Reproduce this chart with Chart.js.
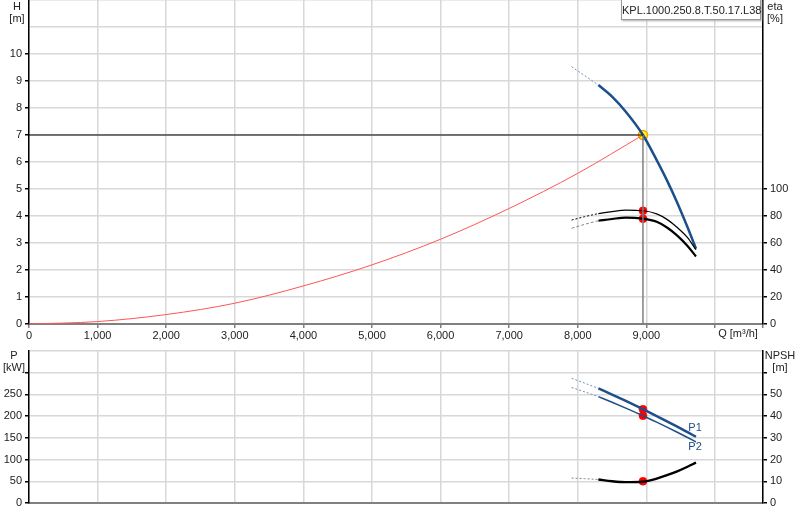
<!DOCTYPE html>
<html>
<head>
<meta charset="utf-8">
<script src="https://cdn.jsdelivr.net/npm/chart.js@4.4.0/dist/chart.umd.min.js"></script>
<style>
  body { margin: 0; background: #fff; font-family: "Liberation Sans", Arial, sans-serif; }
  #wrap { position: relative; width: 800px; height: 520px; overflow: hidden; }
  canvas { position: absolute; left: 0; }
  #topChart { top: 0; }
  #botChart { top: 345px; }
  .lbl { position: absolute; font-size: 11px; color: #222; text-align: center; line-height: 12px; }
  #model {
    position: absolute; left: 621px; top: -1px; width: 138px; height: 19px;
    border: 1px solid #999; background: #fff; box-shadow: 1px 1px 2px #aaa;
    font-size: 11px; line-height: 20px; text-align: center; color: #222;
  }
</style>
</head>
<body>
<div id="wrap">
  <canvas id="topChart" width="800" height="345"></canvas>
  <canvas id="botChart" width="800" height="175"></canvas>
  <div class="lbl" style="left:8px;top:0px;width:18px;">H<br>[m]</div>
  <div class="lbl" style="left:766px;top:0px;width:18px;">eta<br>[%]</div>
  <div class="lbl" style="left:2px;top:349px;width:24px;">P<br>[kW]</div>
  <div class="lbl" style="left:764px;top:349px;width:32px;">NPSH<br>[m]</div>
  <div id="model">KPL.1000.250.8.T.50.17.L38</div>
</div>
<script>
// flow values [m³/h] where the curves were read
const qCurve = [8300, 8500, 8700, 8950, 9150, 9300, 9450, 9600, 9723];
const qExt = [7910, 8100, 8300];
const qMax = 10700;

// head [m]
const head = [8.85, 8.42, 7.86, 7.0, 6.07, 5.32, 4.49, 3.58, 2.79];
const headExt = [9.53, 9.2, 8.85];

// efficiency [%]
const etaUpper = [81.8, 83.2, 84.3, 83.9, 81.6, 77.5, 71.5, 64, 55];
const etaUpperExt = [77.0, 79.5, 81.8];
const etaLower = [76.5, 77.8, 78.8, 78.0, 75.7, 71.5, 65.5, 57.8, 50];
const etaLowerExt = [70.9, 73.8, 76.5];

// power [kW]
const p1 = [264, 249.8, 235.1, 216, 200.2, 188.1, 175.7, 163, 152.5];
const p1Ext = [287, 276, 264];
const p2 = [245, 232.1, 218.6, 201, 186.2, 174.8, 163, 150.9, 140.8];
const p2Ext = [266, 256, 245];

// NPSH [m]
const npsh = [10.8, 10.0, 9.6, 9.8, 11.2, 12.8, 14.6, 16.7, 18.6];
const npshExt = [11.5, 11.2, 10.8];

// system curve
const qSys = [0, 1000, 2000, 3000, 4000, 5000, 6000, 7000, 8000, 8950];
const hSys = [0, 0.09, 0.35, 0.77, 1.41, 2.19, 3.14, 4.28, 5.58, 7.0];

// duty point
const dutyQ = 8950;
const dutyH = 7.0;
const dutyEta = [83.9, 78.0];
const dutyP = [216, 201];
const dutyNpsh = 10;

const blue = "#1d4f8a";
const gridCol = "#d8d8d8";
const font = { family: "'Liberation Sans', Arial, sans-serif", size: 11 };

const pts = (xs, ys) => xs.map((x, i) => ({ x: x, y: ys[i] }));

const line = (data, color, width, axis, dash) => ({
  data: data,
  borderColor: color,
  borderWidth: width,
  borderDash: dash || [],
  pointRadius: 0,
  fill: false,
  cubicInterpolationMode: "monotone",
  yAxisID: axis,
});

const dot = (data, axis) => ({
  type: "scatter",
  data: data,
  yAxisID: axis,
  pointRadius: 4,
  pointBackgroundColor: "#ff0000",
  pointBorderColor: "#ff0000",
  pointBorderWidth: 0.5,
  showLine: false,
});

const tickCol = (limit) => (c) => (c.tick && c.tick.value <= limit ? "#000" : "rgba(0,0,0,0)");

// no extra room for half labels at the ends, the plot area must sit exactly
const noPad = (s) => {
  s.paddingTop = 0;
  s.paddingBottom = 0;
  s.paddingLeft = 0;
  s.paddingRight = 0;
};

// max is set in a hook so chart.js keeps the 1000 step (10700 is not a whole number of steps)
const xScale = (showLabels, height) => ({
  type: "linear",
  min: 0,
  bounds: "data",
  afterDataLimits: (s) => { s.max = qMax; },
  ticks: {
    stepSize: 1000,
    maxTicksLimit: 50,
    display: showLabels,
    maxRotation: 0,
    padding: 1,
    color: "#222",
    font: font,
    callback: (v) => (v < 10000 ? v.toLocaleString("en-US") : ""),
  },
  grid: { color: gridCol, lineWidth: 1.5, tickLength: 4, tickColor: "#808080", drawTicks: showLabels },
  border: { color: "#808080", width: 2 },
  afterFit: (s) => { s.height = height; noPad(s); },
});

const yScale = (pos, max, step, labelMax, tickMax, width, onArea) => ({
  type: "linear",
  position: pos,
  min: 0,
  max: max,
  ticks: {
    stepSize: step,
    maxTicksLimit: 50,
    padding: 3,
    color: "#222",
    font: font,
    callback: (v) => (v <= labelMax ? v : ""),
  },
  grid: {
    color: gridCol,
    lineWidth: 1.5,
    drawOnChartArea: onArea,
    tickLength: 4,
    tickColor: tickCol(tickMax),
  },
  border: { color: "#000", width: 1.5 },
  afterFit: (s) => { s.width = width; noPad(s); },
});

const textPlugin = {
  id: "texts",
  afterDatasetsDraw(chart, args, opts) {
    const ctx = chart.ctx;
    ctx.save();
    ctx.font = "11px 'Liberation Sans', Arial, sans-serif";
    ctx.textAlign = "center";
    ctx.textBaseline = "middle";
    (opts.items || []).forEach((t) => {
      ctx.fillStyle = t.color;
      const x = t.px != null ? t.px : chart.scales.x.getPixelForValue(t.x);
      const y = t.py != null ? t.py : chart.scales[t.axis].getPixelForValue(t.y);
      ctx.fillText(t.text, x, y);
    });
    ctx.restore();
  },
};

Chart.defaults.animation = false;
Chart.defaults.font = font;

new Chart(document.getElementById("topChart"), {
  type: "line",
  data: {
    datasets: [
      line(pts([0, dutyQ], [dutyH, dutyH]), "#000", 1, "y"),
      line(pts([dutyQ, dutyQ], [0, dutyH]), "#808080", 1.5, "y"),
      line(pts(qSys, hSys), "#ff5555", 1, "y"),
      line(pts(qExt, etaUpperExt), "#000", 1, "y2", [2, 2]),
      line(pts(qExt, etaLowerExt), "#888", 1, "y2", [3, 2]),
      line(pts(qCurve, etaUpper), "#000", 1.2, "y2"),
      line(pts(qCurve, etaLower), "#000", 2.2, "y2"),
      line(pts(qExt, headExt), "#6d8db8", 1, "y", [2, 2]),
      line(pts(qCurve, head), blue, 2.5, "y"),
      dot(pts([dutyQ, dutyQ], dutyEta), "y2"),
      {
        type: "scatter",
        data: [{ x: dutyQ, y: dutyH }],
        yAxisID: "y",
        pointRadius: 4.5,
        pointBackgroundColor: "#ffff00",
        pointBorderColor: "#ff9900",
        pointBorderWidth: 1.5,
      },
    ],
  },
  options: {
    responsive: false,
    layout: { padding: 0, autoPadding: false },
    plugins: {
      legend: { display: false },
      tooltip: { enabled: false },
      texts: { items: [{ text: "Q [m³/h]", color: "#222", px: 738, py: 334 }] },
    },
    scales: {
      x: xScale(true, 21),
      y: yScale("left", 12, 1, 10, 10, 29, true),
      y2: yScale("right", 240, 20, 100, 100, 37, false),
    },
  },
  plugins: [textPlugin],
});

new Chart(document.getElementById("botChart"), {
  type: "line",
  data: {
    datasets: [
      line(pts(qExt, p1Ext), "#6d8db8", 1, "y", [2, 2]),
      line(pts(qExt, p2Ext), "#6d8db8", 1, "y", [2, 2]),
      line(pts(qExt, npshExt), "#888", 1, "y2", [2, 2]),
      line(pts(qCurve, p1), blue, 2.5, "y"),
      line(pts(qCurve, p2), blue, 1.5, "y"),
      line(pts(qCurve, npsh), "#000", 2.4, "y2"),
      dot(pts([dutyQ, dutyQ], dutyP), "y"),
      dot([{ x: dutyQ, y: dutyNpsh }], "y2"),
    ],
  },
  options: {
    responsive: false,
    layout: { padding: { top: 6, left: 0, right: 0, bottom: 0 }, autoPadding: false },
    plugins: {
      legend: { display: false },
      tooltip: { enabled: false },
      texts: {
        items: [
          { text: "P1", color: blue, x: 9710, y: 172, axis: "y" },
          { text: "P2", color: blue, x: 9710, y: 128, axis: "y" },
        ],
      },
    },
    scales: {
      x: xScale(false, 17),
      y: yScale("left", 350, 50, 250, 300, 29, true),
      y2: yScale("right", 70, 10, 50, 60, 37, false),
    },
  },
  plugins: [textPlugin],
});
</script>
</body>
</html>
